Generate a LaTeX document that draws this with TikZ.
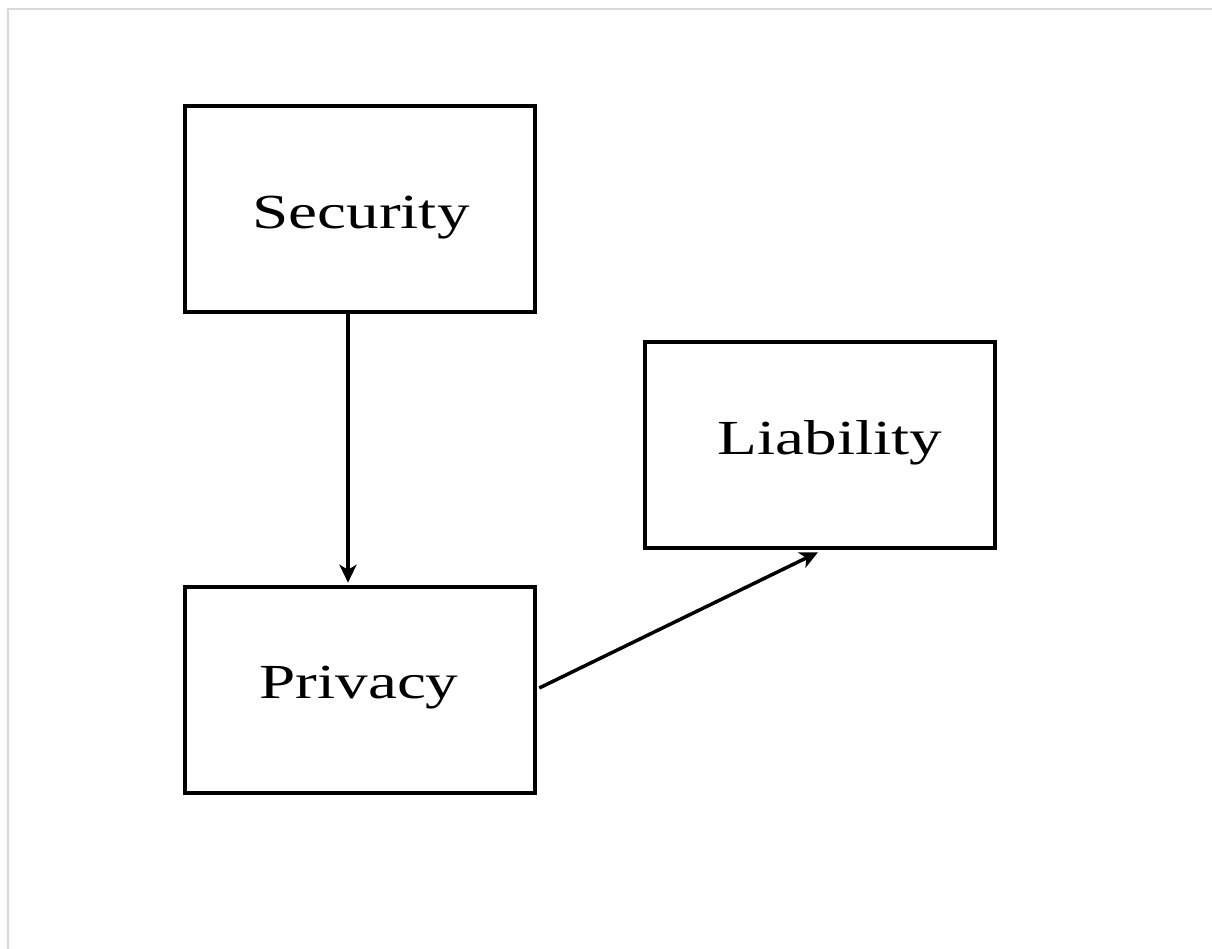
\documentclass[tikz,border=0pt]{standalone}
\usepackage{fontspec}
\setmainfont{Liberation Serif}
\newfontfamily\boxfont[FakeStretch=1.33]{Liberation Serif}
\usetikzlibrary{arrows.meta,calc}
\tikzset{
  box/.style={draw=black, line width=4.5pt, minimum width=350pt, minimum height=206pt, inner sep=0pt},
  lbl/.style={anchor=base, inner sep=0pt, font=\boxfont\fontsize{49}{51}\selectfont},
  conn/.style={line width=3.5pt, -{Stealth[length=18pt,width=17pt,inset=5pt]}},
  frame/.style={draw=black!15, line width=2pt}
}
\begin{document}
\begin{tikzpicture}[x=1pt,y=-1pt]
\useasboundingbox (0,0) rectangle (1212,949);
\fill[white] (0,0) rectangle (1212,949);
\coordinate (ftop) at (1212,9);
\coordinate (fcorner) at (8,9);
\coordinate (fbot) at (8,949);
\draw[frame] (ftop) -- (fcorner) -- (fbot);
\node[box] (sec) at (360,209) {};
\node[box] (priv) at (360,690) {};
\node[box] (lia) at (820,445) {};
\node[lbl] (secT) at (361,229) {Security};
\node[lbl] (privT) at (359,698) {Privacy};
\node[lbl] (liaT) at (830,454) {Liability};
\draw[conn] ($(sec.south)+(-12,0)$) -- ($(priv.north)+(-12,-2)$);
\draw[conn] ($(priv.east)+(2,-2)$) -- ($(lia.south)+(-2,2)$);
\end{tikzpicture}
\end{document}
